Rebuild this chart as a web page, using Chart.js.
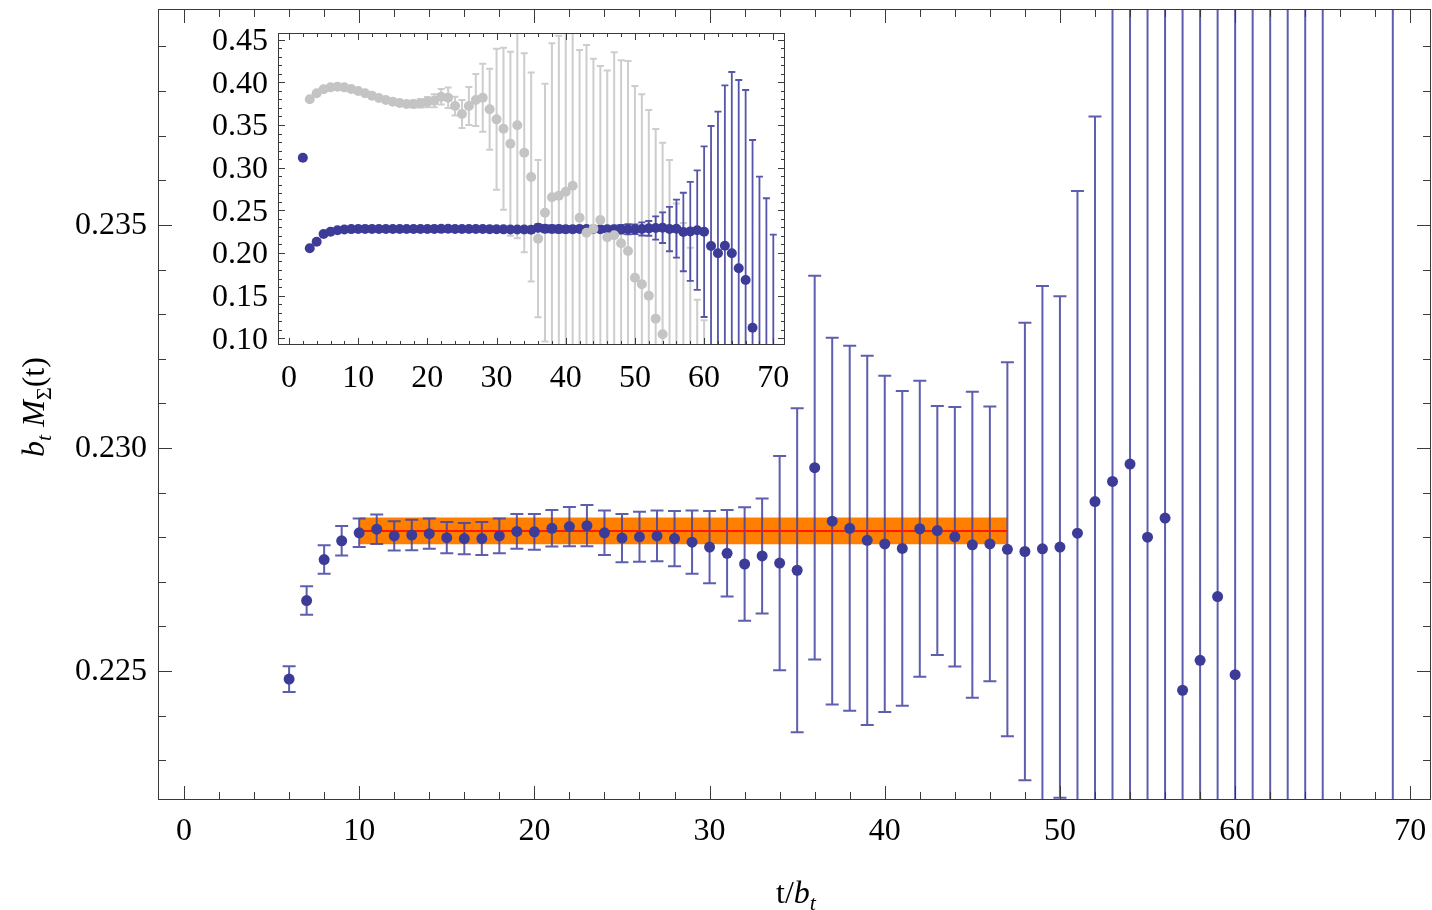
<!DOCTYPE html>
<html>
<head>
<meta charset="utf-8">
<title>Sigma effective mass</title>
<script src="https://cdn.jsdelivr.net/npm/chart.js@4.4.1/dist/chart.umd.min.js"></script>
<style>
  html, body { margin: 0; padding: 0; background: #fff; }
  #wrap { position: relative; width: 1432px; height: 910px; overflow: hidden; }
  #main { position: absolute; left: 0; top: 0; width: 1432px; height: 910px; }
  #inset { position: absolute; left: 180px; top: 15px; width: 620px; height: 390px; }
</style>
</head>
<body>
<div id="wrap">
  <canvas id="main" width="1432" height="910"></canvas>
  <canvas id="inset" width="620" height="390"></canvas>
</div>
<script>
// time slices t/b_t of the effective mass
const tBlue = [
  2, 3, 4, 5,
  6, 7, 8, 9, 10, 11, 12, 13, 14, 15, 16, 17, 18, 19, 20,
  21, 22, 23, 24, 25, 26, 27, 28, 29, 30, 31, 32, 33, 34, 35,
  36, 37, 38, 39, 40, 41, 42, 43, 44, 45, 46, 47, 48, 49, 50,
  51, 52, 53, 54, 55, 56, 57, 58, 59, 60, 61, 62, 63, 64, 65,
  66, 67, 68, 69, 70
];
const blueMass = [
  0.3116, 0.2055, 0.2132, 0.2222,
  0.22482, 0.22658, 0.22750, 0.22792, 0.22810,
  0.22818, 0.22803, 0.22805, 0.22808, 0.22799,
  0.22797, 0.22797, 0.22803, 0.22813, 0.22812,
  0.22820, 0.22824, 0.22826, 0.22810, 0.22798,
  0.22801, 0.22803, 0.22797, 0.22789, 0.22778,
  0.22764, 0.22740, 0.22758, 0.22742, 0.22726,
  0.22956, 0.22836, 0.22820, 0.22793, 0.22785,
  0.22775, 0.22819, 0.22815, 0.22801, 0.22783,
  0.22785, 0.22773, 0.22768, 0.22774, 0.22778,
  0.22809, 0.22880, 0.22925, 0.22964, 0.22800,
  0.22843, 0.22457, 0.22524, 0.22667, 0.22492,
  0.2082, 0.1996, 0.2085, 0.1996, 0.1820,
  0.1683, 0.1124, 0.0674, 0.0441, 0.0014
];
const blueErr = [
  0.0010, 0.0008, 0.0006, 0.0004,
  0.00029, 0.00032, 0.00032, 0.00033, 0.00032,
  0.00033, 0.00033, 0.00034, 0.00034, 0.00035,
  0.00035, 0.00037, 0.00039, 0.00039, 0.00040,
  0.00041, 0.00044, 0.00046, 0.00050, 0.00054,
  0.00056, 0.00057, 0.00062, 0.00071, 0.00081,
  0.00097, 0.00127, 0.00129, 0.00240, 0.00363,
  0.00430, 0.00411, 0.00409, 0.00414, 0.00377,
  0.00353, 0.00332, 0.00279, 0.00291, 0.00343,
  0.00308, 0.00419, 0.00513, 0.00589, 0.00562,
  0.00767, 0.00863, 0.0137, 0.0180, 0.0260,
  0.0340, 0.0460, 0.0580, 0.0700, 0.1000,
  0.1406, 0.1660, 0.1880, 0.2125, 0.2207,
  0.2227, 0.2200, 0.2220, 0.2200, 0.2200
];

// second correlator (grey, inset only)
const tGray = [
  3, 4, 5, 6, 7, 8, 9, 10, 11, 12, 13, 14, 15, 16, 17, 18, 19, 20,
  21, 22, 23, 24, 25, 26, 27, 28, 29, 30, 31, 32, 33, 34, 35,
  36, 37, 38, 39, 40, 41, 42, 43, 44, 45, 46, 47, 48, 49, 50,
  51, 52, 53, 54, 55, 56, 57, 58, 59, 60
];
const grayMass = [
  0.3801, 0.3871, 0.3918, 0.3941, 0.3948,
  0.3941, 0.3921, 0.3898, 0.3871, 0.3843,
  0.3816, 0.3793, 0.3773, 0.3757, 0.3746,
  0.3746, 0.3754, 0.3769, 0.3784, 0.3831,
  0.3820, 0.3722, 0.3628, 0.3722, 0.3793,
  0.3820, 0.3684, 0.3566, 0.3456, 0.3280,
  0.3496, 0.3175, 0.2890, 0.2167, 0.2472,
  0.2652, 0.2671, 0.2718, 0.2788, 0.2413,
  0.2237, 0.2284, 0.2386, 0.2184, 0.2207,
  0.2113, 0.2023, 0.1710, 0.1633, 0.1499,
  0.1230, 0.1047, 0.0850, 0.0360, 0.0130,
  -0.0160, -0.0770, -0.1010
];
const grayErr = [
  0.0005, 0.0005, 0.0006, 0.0007, 0.0008,
  0.0009, 0.0010, 0.0012, 0.0014, 0.0016,
  0.0019, 0.0022, 0.0026, 0.0030, 0.0035,
  0.0042, 0.0050, 0.0060, 0.0075, 0.0090,
  0.0120, 0.0110, 0.0164, 0.0223, 0.0305,
  0.0398, 0.0475, 0.0826, 0.0949, 0.1078,
  0.1324, 0.1166, 0.1225, 0.0922, 0.1510,
  0.1805, 0.1875, 0.1950, 0.1950, 0.1965,
  0.2200, 0.1992, 0.1805, 0.1953, 0.2145,
  0.2145, 0.2227, 0.2247, 0.2227, 0.2176,
  0.2223, 0.2245, 0.2240, 0.2220, 0.2220,
  0.2220, 0.2220, 0.2220
];

// plateau fit
const fitT = [10, 47];
const fitMass = 0.22814;
const fitErr = 0.0003;

// slices plotted in the big panel
const mainWindow = [6, 65];
const mainExtra = [69];

// tick labels
const mainXLabels = [0, 10, 20, 30, 40, 50, 60, 70];
const mainYLabels = [0.225, 0.230, 0.235];
const insetXLabels = [0, 10, 20, 30, 40, 50, 60, 70];
const insetYLabels = [0.10, 0.15, 0.20, 0.25, 0.30, 0.35, 0.40, 0.45];

const SERIF = '"Liberation Serif", "Times New Roman", serif';

function range(a, b, s) {
  const out = [];
  for (let v = a; v <= b + s / 2; v += s) out.push(+v.toFixed(6));
  return out;
}

function drawErrorBars(chart, index) {
  const ds = chart.data.datasets[index];
  const { ctx, chartArea: a, scales: { x, y } } = chart;
  ctx.save();
  ctx.beginPath();
  ctx.rect(a.left, a.top, a.right - a.left, a.bottom - a.top);
  ctx.clip();
  ctx.strokeStyle = ds.barColor;
  ctx.lineWidth = ds.barWidth;
  ctx.beginPath();
  ds.data.forEach((p, i) => {
    const e = ds.errors[i];
    const px = x.getPixelForValue(p.x);
    const top = y.getPixelForValue(p.y + e);
    const bot = y.getPixelForValue(p.y - e);
    ctx.moveTo(px, top); ctx.lineTo(px, bot);
    ctx.moveTo(px - ds.capHalf, top); ctx.lineTo(px + ds.capHalf, top);
    ctx.moveTo(px - ds.capHalf, bot); ctx.lineTo(px + ds.capHalf, bot);
  });
  ctx.stroke();
  ctx.restore();
}

// Mathematica-like frame: ticks pointing inwards on all four sides
function makeFrame(cfg) {
  const isMajor = (list, v) => list.some(m => Math.abs(m - v) < 1e-9);
  return {
    id: 'frame',
    afterDraw(chart) {
      const { ctx, chartArea: a, scales: { x, y } } = chart;
      ctx.save();
      ctx.strokeStyle = '#3a3a3a';
      ctx.lineWidth = 1;
      ctx.strokeRect(a.left + 0.5, a.top + 0.5, a.right - a.left - 1, a.bottom - a.top - 1);
      ctx.beginPath();
      cfg.xTicks.forEach(v => {
        const len = isMajor(cfg.xLabels, v) ? cfg.majorLen : cfg.minorLen;
        const px = Math.round(x.getPixelForValue(v)) + 0.5;
        ctx.moveTo(px, a.bottom); ctx.lineTo(px, a.bottom - len);
        ctx.moveTo(px, a.top); ctx.lineTo(px, a.top + len);
      });
      cfg.yTicks.forEach(v => {
        const len = isMajor(cfg.yLabels, v) ? cfg.majorLen : cfg.minorLen;
        const py = Math.round(y.getPixelForValue(v)) + 0.5;
        ctx.moveTo(a.left, py); ctx.lineTo(a.left + len, py);
        ctx.moveTo(a.right, py); ctx.lineTo(a.right - len, py);
      });
      ctx.stroke();

      ctx.fillStyle = '#000';
      ctx.font = `${cfg.fontSize}px ${SERIF}`;
      ctx.textBaseline = 'middle';
      ctx.textAlign = 'center';
      cfg.xLabels.forEach(v => ctx.fillText(String(v), x.getPixelForValue(v), a.bottom + cfg.xLabelOffset));
      ctx.textAlign = 'right';
      cfg.yLabels.forEach(v => ctx.fillText(v.toFixed(cfg.yDecimals), a.left - cfg.yLabelGap, y.getPixelForValue(v) + cfg.yLabelShift));
      ctx.restore();
    }
  };
}

// text runs with italic letters and subscripts
function drawRich(ctx, parts, cx, baseY) {
  let total = 0;
  parts.forEach(p => { ctx.font = p.font; p.w = ctx.measureText(p.text).width; total += p.w; });
  let xx = cx - total / 2;
  parts.forEach(p => {
    ctx.font = p.font;
    ctx.fillText(p.text, xx, baseY + (p.dy || 0));
    xx += p.w;
  });
}

const axisTitles = {
  id: 'axisTitles',
  afterDraw(chart) {
    const ctx = chart.ctx;
    const big = `32px ${SERIF}`, bigI = `italic 32px ${SERIF}`;
    const sub = `22px ${SERIF}`, subI = `italic 22px ${SERIF}`;
    ctx.save();
    ctx.fillStyle = '#000';
    ctx.textAlign = 'left';
    ctx.textBaseline = 'alphabetic';
    drawRich(ctx, [
      { text: 't/', font: big },
      { text: 'b', font: bigI },
      { text: 't', font: subI, dy: 7 }
    ], 796, 903);
    ctx.translate(44, 407);
    ctx.rotate(-Math.PI / 2);
    drawRich(ctx, [
      { text: 'b', font: bigI },
      { text: 't', font: subI, dy: 7 },
      { text: ' ', font: big },
      { text: 'M', font: bigI },
      { text: 'Σ', font: sub, dy: 7 },
      { text: '(t)', font: big }
    ], 0, 0);
    ctx.restore();
  }
};

// big panel: bars go under the fit line, points on top
const mainBars = {
  id: 'mainBars',
  beforeDatasetDraw(chart, args) {
    if (args.index === 1) drawErrorBars(chart, 0);
  }
};

const mainIdx = tBlue.map((t, i) => i).filter(i =>
  (tBlue[i] >= mainWindow[0] && tBlue[i] <= mainWindow[1]) || mainExtra.includes(tBlue[i]));

const blank = 'rgba(0,0,0,0)';

new Chart(document.getElementById('main'), {
  type: 'scatter',
  data: {
    datasets: [
      {
        data: mainIdx.map(i => ({ x: tBlue[i], y: blueMass[i] })),
        errors: mainIdx.map(i => blueErr[i]),
        barColor: 'rgba(66,66,160,0.85)',
        barWidth: 2,
        capHalf: 6.5,
        pointRadius: 5.5,
        pointBackgroundColor: '#3c3c98',
        pointBorderColor: '#3c3c98',
        pointBorderWidth: 0
      },
      {
        type: 'line',
        data: fitT.map(t => ({ x: t, y: fitMass })),
        borderColor: '#ff1a00',
        borderWidth: 2,
        pointRadius: 0,
        fill: false
      },
      {
        type: 'line',
        data: fitT.map(t => ({ x: t, y: fitMass + fitErr })),
        borderColor: blank,
        borderWidth: 0,
        pointRadius: 0,
        backgroundColor: '#ff8000',
        fill: '+1'
      },
      {
        type: 'line',
        data: fitT.map(t => ({ x: t, y: fitMass - fitErr })),
        borderColor: blank,
        borderWidth: 0,
        pointRadius: 0,
        fill: false
      }
    ]
  },
  options: {
    responsive: false,
    animation: false,
    events: [],
    layout: { autoPadding: false, padding: { left: 158, right: 1, top: 9, bottom: 110 } },
    scales: {
      x: { type: 'linear', min: -1.484, max: 71.18, display: false },
      y: { type: 'linear', min: 0.22211, max: 0.23984, display: false }
    },
    plugins: { legend: { display: false }, tooltip: { enabled: false } }
  },
  plugins: [mainBars, axisTitles, makeFrame({
    xTicks: range(0, 70, 2), xLabels: mainXLabels,
    yTicks: range(0.223, 0.239, 0.001), yLabels: mainYLabels,
    majorLen: 14, minorLen: 8, fontSize: 32,
    xLabelOffset: 32, yLabelGap: 11, yDecimals: 3, yLabelShift: 1
  })]
});

// inset: whole time range, both correlators
const insetBars = {
  id: 'insetBars',
  beforeDatasetsDraw(chart) {
    drawErrorBars(chart, 0);
    drawErrorBars(chart, 1);
  }
};

new Chart(document.getElementById('inset'), {
  type: 'scatter',
  data: {
    datasets: [
      {
        data: tGray.map((t, i) => ({ x: t, y: grayMass[i] })),
        errors: grayErr,
        barColor: '#cdcdcd',
        barWidth: 2,
        capHalf: 3.5,
        pointRadius: 5,
        pointBackgroundColor: '#c4c4c4',
        pointBorderColor: '#c4c4c4',
        pointBorderWidth: 0
      },
      {
        data: tBlue.map((t, i) => ({ x: t, y: blueMass[i] })),
        errors: blueErr,
        barColor: 'rgba(66,66,160,0.9)',
        barWidth: 1.8,
        capHalf: 3.5,
        pointRadius: 5,
        pointBackgroundColor: '#3c3c98',
        pointBorderColor: '#3c3c98',
        pointBorderWidth: 0
      }
    ]
  },
  options: {
    responsive: false,
    animation: false,
    events: [],
    layout: { autoPadding: false, padding: { left: 98, right: 15, top: 18, bottom: 60 } },
    scales: {
      x: { type: 'linear', min: -1.59, max: 71.69, display: false },
      y: { type: 'linear', min: 0.0921, max: 0.4578, display: false }
    },
    plugins: { legend: { display: false }, tooltip: { enabled: false } }
  },
  plugins: [insetBars, makeFrame({
    xTicks: range(0, 70, 2), xLabels: insetXLabels,
    yTicks: range(0.10, 0.45, 0.01), yLabels: insetYLabels,
    majorLen: 7, minorLen: 4, fontSize: 32,
    xLabelOffset: 34, yLabelGap: 10, yDecimals: 2, yLabelShift: 2
  })]
});
</script>
</body>
</html>
